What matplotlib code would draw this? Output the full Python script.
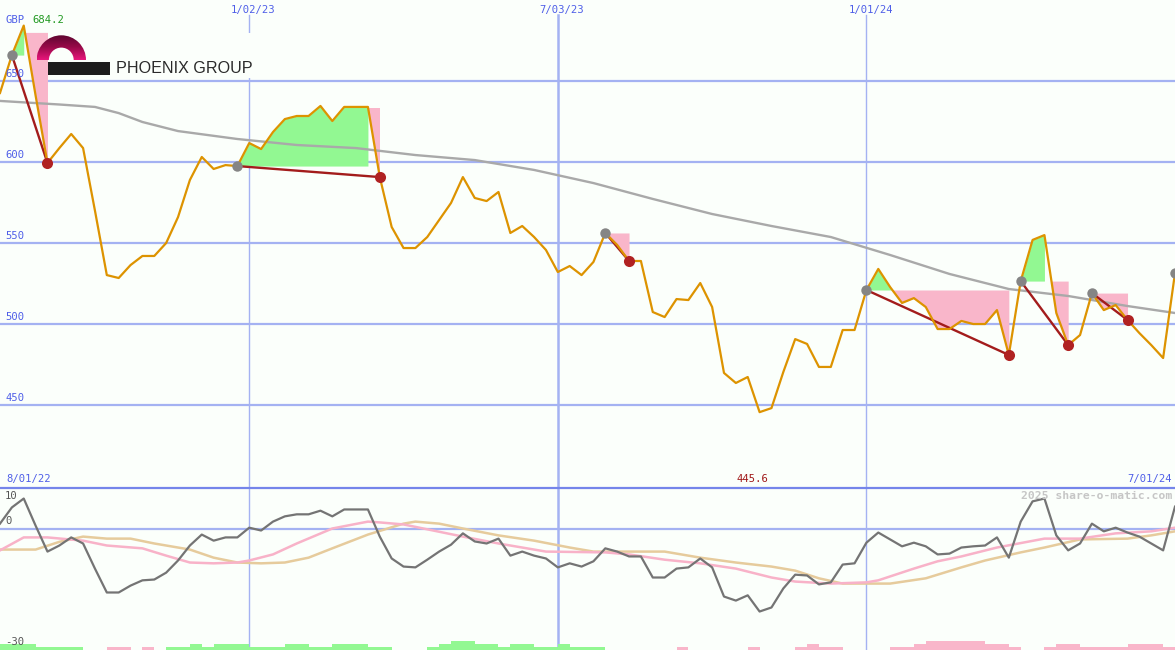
import matplotlib
matplotlib.use("Agg")
import numpy as np
import pandas as pd
import matplotlib.pyplot as plt
import matplotlib.dates as mdates
import matplotlib.transforms as mtransforms
from matplotlib.patches import Wedge, Rectangle
from matplotlib.colors import LinearSegmentedColormap

# ---------------- data ----------------
dates = pd.date_range("2022-08-08", periods=100, freq="7D")

price = [642.6, 666.0, 684.2, 641.0, 599.4, 608.6, 617.3, 608.6, 570.0, 530.2,
         528.4, 536.4, 542.0, 542.0, 550.0, 566.0, 588.9, 603.1, 595.7, 598.1,
         597.5, 611.7, 608.0, 618.5, 626.5, 628.4, 628.4, 634.6, 625.3, 634.0,
         634.0, 634.0, 590.7, 559.9, 546.9, 546.9, 553.7, 564.2, 574.7, 590.7,
         577.8, 575.9, 581.5, 556.2, 560.5, 553.7, 545.7, 532.1, 535.8, 530.2,
         538.3, 556.2, 548.8, 538.9, 538.9, 507.4, 504.3, 515.4, 514.8, 525.3,
         510.5, 469.8, 463.6, 467.3, 445.6, 448.1, 470.4, 490.7, 487.7, 473.5,
         473.5, 496.3, 496.3, 521.0, 534.0, 522.8, 513.0, 516.0, 510.5, 496.9,
         496.9, 501.9, 500.0, 500.0, 508.6, 480.9, 526.5, 551.9, 554.9, 506.8,
         487.0, 493.2, 519.1, 508.6, 511.7, 502.5, 494.4, 487.0, 479.0, 531.5]

ma_idx = [0, 5, 8, 10, 12, 15, 20, 25, 30, 35, 40, 45, 50, 55, 60, 65, 70, 75, 80, 85, 90, 95, 99]
ma_val = [637.7, 635.5, 634.0, 630.2, 624.7, 619.1, 614.2, 610.5, 608.6, 604.3, 601.2, 595.1,
          587.0, 577.2, 567.9, 560.5, 553.7, 542.6, 530.9, 521.6, 517.3, 511.1, 506.8]

# signal zones: (high marker index, low marker index)
zones = [(1, 4), (20, 32), (51, 53), (73, 85), (86, 90), (92, 95)]
extra_high = [99]
green_spans = [(1, 2), (20, 31), (73, 76), (86, 88)]
pink_spans = [(2, 4, 680.0), (31, 32, 633.5), (51, 53, 556.2), (74, 85, 521.0),
              (88, 90, 526.5), (92, 95, 519.1)]

momentum = [1.2, 5.2, 7.4, 0.7, -5.7, -4.2, -2.2, -3.7, -9.9, -15.8,
            -15.8, -14.1, -12.8, -12.6, -10.9, -7.9, -4.2, -1.5, -3.0, -2.2,
            -2.2, 0.2, -0.5, 1.7, 3.0, 3.5, 3.5, 4.4, 3.0, 4.7,
            4.7, 4.7, -2.0, -7.4, -9.4, -9.6, -7.7, -5.7, -4.0, -1.2,
            -3.2, -3.7, -2.5, -6.7, -5.7, -6.7, -7.4, -9.6, -8.6, -9.4,
            -8.1, -4.9, -5.7, -6.9, -6.9, -12.1, -12.1, -9.9, -9.6, -7.4,
            -9.6, -16.8, -17.8, -16.5, -20.5, -19.5, -14.8, -11.4, -11.6, -13.8,
            -13.3, -8.9, -8.6, -3.5, -1.0, -2.7, -4.4, -3.5, -4.4, -6.4,
            -6.2, -4.7, -4.4, -4.2, -2.2, -7.2, 1.7, 6.7, 7.4, -1.7,
            -5.4, -3.7, 1.2, -0.7, 0.2, -1.0, -2.0, -3.7, -5.4, 5.4]

pink_idx = [0, 2, 4, 7, 9, 12, 14, 16, 18, 20, 21, 23, 25, 28, 31, 32, 34, 36, 39, 42, 46, 51,
            53, 56, 59, 62, 65, 67, 70, 73, 74, 77, 79, 81, 84, 88, 91, 94, 97, 99]
pink_val = [-5.4, -2.2, -2.2, -3.0, -4.2, -4.9, -6.7, -8.4, -8.6, -8.4, -7.9, -6.4, -3.7, 0.0,
            1.7, 1.5, 1.0, -0.2, -2.0, -3.7, -5.7, -5.9, -6.4, -7.7, -8.6, -9.9, -12.1, -13.1,
            -13.6, -13.3, -12.8, -9.9, -8.1, -6.9, -4.7, -2.5, -2.5, -1.2, -0.7, 0.2]

tan_idx = [0, 3, 5, 7, 9, 11, 13, 16, 18, 20, 22, 24, 26, 28, 31, 34, 35, 37, 39, 42, 45, 48,
           50, 56, 59, 62, 65, 67, 69, 71, 75, 78, 81, 83, 86, 88, 91, 95, 97, 99]
tan_val = [-5.2, -5.2, -3.3, -2.0, -2.5, -2.5, -3.7, -5.2, -7.2, -8.4, -8.6, -8.4, -7.2, -4.9,
           -1.5, 1.2, 1.7, 1.2, 0.0, -1.7, -3.0, -4.7, -5.7, -5.7, -7.2, -8.4, -9.4, -10.4,
           -12.3, -13.6, -13.6, -12.3, -9.6, -7.9, -5.9, -4.7, -2.7, -2.5, -1.7, -0.7]

hist = [2, 2, 2, 1, 1, 1, 1, 0, 0, -1, -1, 0, -1, 0, 1, 1, 2, 1, 2, 2, 2, 1, 1, 1, 2, 2, 1, 1,
        2, 2, 2, 1, 1, 0, 0, 0, 1, 2, 3, 3, 2, 2, 1, 2, 2, 1, 1, 2, 1, 1, 1, 0, 0, 0, 0, 0, 0,
        -1, 0, 0, 0, 0, 0, -1, 0, 0, 0, -1, -2, -1, -1, 0, 0, 0, 0, -1, -1, -2, -3, -3, -3, -3,
        -3, -2, -2, -1, 0, 0, -1, -2, -2, -1, -1, -1, -1, -2, -2, -2, -1, 0]

price_ticks = [650, 600, 550, 500, 450]
vline_dates = ["2023-01-02", "2023-07-03", "2024-01-01"]
vline_labels = ["1/02/23", "7/03/23", "1/01/24"]
low_ticks = [10, 0, -30]
currency = "GBP"
last_high_label = "684.2"
low_label = "445.6"
start_label, end_label = "8/01/22", "7/01/24"
company = "PHOENIX GROUP"
watermark = "2025 share-o-matic.com"

# ---------------- styles ----------------
W, H = 1175, 650
BG = "#fbfffb"
GRID = "#a4b2f2"
BLUE = "#4f5fe8"
ORANGE = "#dd9300"
GREEN_F = "#92f892"
PINK_F = "#f9b6ca"
DARKRED = "#a31c1c"
MONO = ["DejaVu Sans Mono"]

x = mdates.date2num(dates.to_pydatetime())
p = np.array(price)

fig = plt.figure(figsize=(W / 100, H / 100), dpi=100, facecolor=BG)
ax = fig.add_axes([0, 163 / H, 1, 487 / H])
ax2 = fig.add_axes([0, 0, 1, 162 / H])
ov = fig.add_axes([0, 0, 1, 1], zorder=10)
for a in (ax, ax2):
    a.set_facecolor(BG)
    a.axis("off")
    a.set_xlim(x[0], x[-1])
ax.set_ylim(399.4, 700)
ax2.set_ylim(-30, 10)
ov.set_xlim(0, W)
ov.set_ylim(H, 0)
ov.axis("off")
ov.patch.set_alpha(0)

vx = mdates.date2num(pd.to_datetime(vline_dates).to_pydatetime())

# grid
for v in price_ticks:
    ax.axhline(v, color=GRID, lw=1.6, zorder=1)
for k, d in enumerate(vx):
    lw = 1.8 if k == 1 else 1.0
    ax.axvline(d, ymax=1 - 15 / 487, color=GRID, lw=lw, zorder=1)
    ax2.axvline(d, color=GRID, lw=lw, zorder=1)
ax2.axhline(0, color=GRID, lw=1.6, zorder=1)
ov.plot([0, W], [487.5, 487.5], color="#7585ea", lw=1.6)

# fills
for a, b in green_spans:
    lvl = p[a]
    seg = p[a:b + 1]
    ax.fill_between(x[a:b + 1], lvl, seg, where=seg >= lvl, interpolate=True,
                    color=GREEN_F, lw=0, zorder=2)
for a, b, top in pink_spans:
    seg = p[a:b + 1]
    ax.fill_between(x[a:b + 1], top, seg, where=seg <= top, interpolate=True,
                    color=PINK_F, lw=0, zorder=2)

# moving average
ax.plot(x[ma_idx], ma_val, color="#a9a9a9", lw=1.7, zorder=3)

# zone connectors
for g, r in zones:
    ax.plot([x[g], x[r]], [p[g], p[r]], color=DARKRED, lw=1.7, zorder=4)

# price
ax.plot(x, p, color=ORANGE, lw=1.6, zorder=5)

hi = [g for g, r in zones] + extra_high
lo = [r for g, r in zones]
ax.plot(x[hi], p[hi], "o", color="#858585", ms=7.5, mew=0, zorder=6)
ax.plot(x[lo], p[lo], "o", color="#b02222", ms=8, mew=0, zorder=6)

# lower panel
h = np.array(hist)
cols = [GREEN_F if v > 0 else PINK_F for v in h]
ax2.bar(x, np.abs(h) * 0.74, bottom=-30, width=7, align="edge", color=cols, lw=0, zorder=2)
ax2.plot(x[tan_idx], tan_val, color="#e6cb9c", lw=1.8, zorder=3)
ax2.plot(x[pink_idx], pink_val, color="#f8b2c8", lw=1.8, zorder=3)
ax2.plot(x, momentum, color="#747474", lw=1.6, zorder=4)

# ---------------- texts ----------------
fs = 7.6
t_main = mtransforms.blended_transform_factory(ov.transData, ax.transData)
for v in price_ticks:
    ov.annotate(str(v), xy=(5, v), xycoords=t_main, xytext=(0, 1.5),
                textcoords="offset points", va="bottom", ha="left",
                family=MONO, fontsize=fs, color=BLUE)
t_low = mtransforms.blended_transform_factory(ov.transData, ax2.transData)
ov.annotate(str(low_ticks[0]), xy=(5, low_ticks[0]), xycoords=t_low, xytext=(0, -2),
            textcoords="offset points", va="top", family=MONO, fontsize=fs, color="#555555")
ov.annotate(str(low_ticks[1]), xy=(5, low_ticks[1]), xycoords=t_low, xytext=(0, 1.5),
            textcoords="offset points", va="bottom", family=MONO, fontsize=fs, color="#555555")
ov.annotate("\u221230".replace("\u2212", "-") if low_ticks[2] < 0 else str(low_ticks[2]),
            xy=(5, low_ticks[2]), xycoords=t_low, xytext=(0, 2),
            textcoords="offset points", va="bottom", family=MONO, fontsize=fs, color="#555555")

t_top = mtransforms.blended_transform_factory(ax.transData, ov.transData)
for d, lab in zip(vx, vline_labels):
    ov.text(d + 2.5, 9.5, lab, transform=t_top, ha="center", va="center",
            family=MONO, fontsize=fs, color=BLUE)

ov.text(6, 20, currency, ha="left", va="center", family=MONO, fontsize=fs, color=BLUE)
ov.text(32, 20, last_high_label, ha="left", va="center", family=MONO, fontsize=fs, color="#229922")
ov.text(6, 479, start_label, ha="left", va="center", family=MONO, fontsize=fs, color=BLUE)
ov.text(1172, 479, end_label, ha="right", va="center", family=MONO, fontsize=fs, color=BLUE)
imin = int(np.argmin(p))
ov.text(x[imin] - 4.5, 479, low_label, transform=t_top, ha="center", va="center",
        family=MONO, fontsize=fs, color="#a01818")
ov.text(1172, 496, watermark, ha="right", va="center", family=MONO, fontsize=8.2,
        fontweight="bold", color="#c6c6c6")

# ---------------- logo ----------------
ov.add_patch(Rectangle((86, 33), 175, 45, color=BG, lw=0, zorder=1))
cmap = LinearSegmentedColormap.from_list("arch", ["#5e0630", "#9a0a4a", "#e8167c"])
grad = np.linspace(0, 1, 64).reshape(-1, 1)
im = ov.imshow(grad, extent=(36.5, 86.2, 60, 35.2), origin="upper", cmap=cmap,
               aspect="auto", zorder=2, interpolation="bilinear")
wedge = Wedge((61.3, 60), 24.7, 180, 360, width=12.3, transform=ov.transData)
im.set_clip_path(wedge)
ov.add_patch(Rectangle((48.3, 62.3), 61.7, 12.7, color="#1c1c1c", lw=0, zorder=3))
ov.text(116, 68.8, company, ha="left", va="center", family=["Liberation Sans"],
        fontsize=11.6, color="#2a2a2a", zorder=3)
ov.set_xlim(0, W)
ov.set_ylim(H, 0)

fig.savefig("out.png", dpi=100, facecolor=BG)
